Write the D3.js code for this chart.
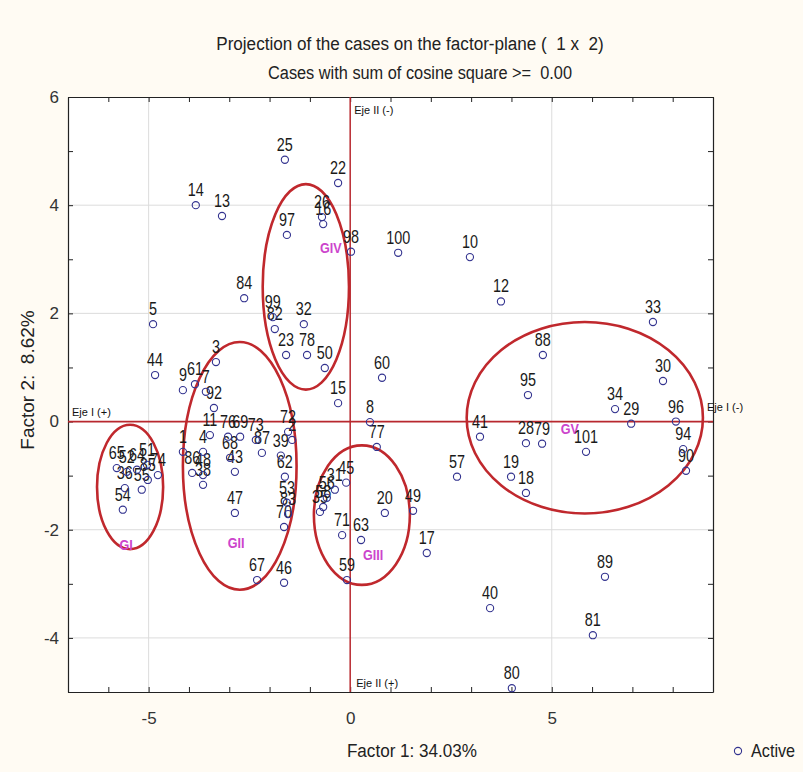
<!DOCTYPE html>
<html><head><meta charset="utf-8">
<script src="https://cdn.jsdelivr.net/npm/d3@7/dist/d3.min.js"></script>
<style>
html,body{margin:0;padding:0;background:#fffbf3;}
svg{display:block;font-family:"Liberation Sans",Arial,sans-serif;}
.pre{white-space:pre;}
</style></head>
<body><svg id="c" width="803" height="772"></svg>
<script>
// ---------- data ----------
const caseIds = [25,22,14,13,26,16,97,98,100,10,12,84,99,82,32,23,78,50,60,33,5,44,3,9,61,7,92,11,76,69,73,1,4,86,48,38,68,43,87,39,72,2,62,53,83,70,47,67,46,15,8,77,45,31,56,58,35,71,63,20,59,49,17,40,80,89,81,57,19,18,88,95,41,28,79,101,34,29,30,96,94,90,65,52,64,51,74,85,55,36,54];
const factor1 = [-1.62,-0.30,-3.83,-3.18,-0.70,-0.67,-1.57,0.02,1.19,2.97,3.74,-2.63,-1.92,-1.87,-1.15,-1.59,-1.07,-0.63,0.79,7.51,-4.89,-4.84,-3.33,-4.15,-3.85,-3.58,-3.38,-3.48,-3.03,-2.73,-2.34,-4.15,-3.65,-3.92,-3.65,-3.65,-2.98,-2.86,-2.19,-1.72,-1.54,-1.44,-1.62,-1.57,-1.54,-1.64,-2.86,-2.31,-1.64,-0.30,0.49,0.66,-0.10,-0.38,-0.58,-0.67,-0.75,-0.20,0.27,0.86,-0.08,1.56,1.90,3.47,4.01,6.32,6.02,2.65,3.99,4.36,4.78,4.41,3.22,4.36,4.76,5.85,6.57,6.97,7.76,8.08,8.26,8.33,-5.79,-5.54,-5.29,-5.04,-4.77,-5.02,-5.17,-5.59,-5.64];
const factor2 = [4.84,4.41,4.00,3.80,3.78,3.65,3.45,3.14,3.12,3.04,2.22,2.28,1.93,1.71,1.80,1.23,1.23,0.99,0.81,1.84,1.80,0.86,1.10,0.58,0.69,0.55,0.25,-0.25,-0.28,-0.28,-0.34,-0.56,-0.56,-0.95,-0.99,-1.17,-0.67,-0.93,-0.58,-0.63,-0.19,-0.34,-1.02,-1.50,-1.71,-1.95,-1.69,-2.93,-2.98,0.34,-0.01,-0.47,-1.13,-1.26,-1.41,-1.58,-1.67,-2.10,-2.19,-1.69,-2.93,-1.65,-2.43,-3.45,-4.93,-2.87,-3.95,-1.02,-1.02,-1.32,1.23,0.49,-0.28,-0.40,-0.41,-0.56,0.23,-0.04,0.75,0.00,-0.51,-0.91,-0.86,-0.93,-0.89,-0.80,-0.99,-1.08,-1.26,-1.23,-1.63];

const groupNames = ["GI","GII","GIII","GIV","GV"];
const groupCx = [-5.46,-2.74,0.29,-1.10,5.82];
const groupCy = [-1.21,-0.82,-1.73,2.49,0.07];
const groupRx = [0.82,1.41,1.19,1.07,2.93];
const groupRy = [1.15,2.29,1.29,1.90,1.77];
const groupLabelX = [-5.56,-2.83,0.57,-0.48,5.45];
const groupLabelY = [-2.28,-2.24,-2.47,3.21,-0.14];

const xDomain = [-7,9];
const yDomain = [-5,6];
const xMajorTicks = [-5,0,5];
const yMajorTicks = [-4,-2,0,2,4,6];
const xMinorTicks = d3.range(-7,10,1);
const yMinorTicks = d3.range(-5,7,1);

const titleText = "Projection of the cases on the factor-plane (  1 x  2)";
const subtitleText = "Cases with sum of cosine square >=  0.00";
const xTitle = "Factor 1: 34.03%";
const yTitle = "Factor 2:  8.62%";
const legendText = "Active";
const axisLabels = ["Eje II (-)","Eje II (+)","Eje I (+)","Eje I (-)"];

// ---------- layout ----------
const L=68,R=713,T=97,B=692;
const x = d3.scaleLinear().domain(xDomain).range([L,R]);
const y = d3.scaleLinear().domain(yDomain).range([B,T]);
const svg = d3.select("#c");
const ink="#222";

svg.append("rect").attr("x",L).attr("y",T).attr("width",R-L).attr("height",B-T).attr("fill","#fff");

// grid
const g = svg.append("g");
g.selectAll(".gx").data(xMajorTicks.filter(v=>v!==0)).enter().append("line")
 .attr("x1",d=>x(d)).attr("x2",d=>x(d)).attr("y1",T).attr("y2",B).attr("stroke","#dcdcdc").attr("stroke-width",1);
g.selectAll(".gy").data(yMajorTicks.filter(v=>v!==0&&v!==6)).enter().append("line")
 .attr("y1",d=>y(d)).attr("y2",d=>y(d)).attr("x1",L).attr("x2",R).attr("stroke","#dcdcdc").attr("stroke-width",1);

// axes (ticks inside)
function styleAxis(sel){sel.select(".domain").attr("stroke",ink).attr("stroke-width",1.2);sel.selectAll("line").attr("stroke",ink);}
const fmt = d=>d<0?"-"+Math.abs(d):String(d);
const bx = svg.append("g").attr("transform",`translate(0,${B})`)
 .call(d3.axisBottom(x).tickValues(xMinorTicks).tickSizeInner(-5).tickSizeOuter(0).tickPadding(20).tickFormat(d=>xMajorTicks.includes(d)?fmt(d):""));
styleAxis(bx);
const tx = svg.append("g").attr("transform",`translate(0,${T})`)
 .call(d3.axisTop(x).tickValues(xMinorTicks).tickSizeInner(-5).tickSizeOuter(0).tickFormat(""));
styleAxis(tx);
const ly = svg.append("g").attr("transform",`translate(${L},0)`)
 .call(d3.axisLeft(y).tickValues(yMinorTicks).tickSizeInner(-5).tickSizeOuter(0).tickPadding(9).tickFormat(d=>yMajorTicks.includes(d)?fmt(d):""));
styleAxis(ly);
const ry = svg.append("g").attr("transform",`translate(${R},0)`)
 .call(d3.axisRight(y).tickValues(yMinorTicks).tickSizeInner(-5).tickSizeOuter(0).tickFormat(""));
styleAxis(ry);
svg.selectAll(".tick text").attr("font-size",17).attr("fill","#333").style("font-family","Liberation Sans, Arial");

// red axis lines
svg.append("line").attr("x1",x(0)).attr("x2",x(0)).attr("y1",T).attr("y2",B).attr("stroke","#b8282e").attr("stroke-width",1.5);
svg.append("line").attr("x1",L).attr("x2",R).attr("y1",y(0)).attr("y2",y(0)).attr("stroke","#b8282e").attr("stroke-width",1.8);

// axis name labels
function small(t,px,py,anchor){return svg.append("text").attr("x",px).attr("y",py).attr("font-size",11).attr("fill","#111").attr("text-anchor",anchor||"start").text(t);}
small(axisLabels[0],x(0)+4,y(6)+17);
small(axisLabels[1],x(0)+6,y(-5)-5);
small(axisLabels[2],L+4,y(0)-6);
small(axisLabels[3],R-6,y(0)-11);

// ellipses
svg.append("g").selectAll("ellipse").data(groupNames).enter().append("ellipse")
 .attr("cx",(d,i)=>x(groupCx[i])).attr("cy",(d,i)=>y(groupCy[i]))
 .attr("rx",(d,i)=>x(groupRx[i])-x(0)).attr("ry",(d,i)=>y(0)-y(groupRy[i]))
 .attr("fill","none").attr("stroke","#c0282d").attr("stroke-width",2.6);

// group labels
svg.append("g").selectAll("text").data(groupNames).enter().append("text")
 .attr("transform",(d,i)=>`translate(${x(groupLabelX[i])},${y(groupLabelY[i])+5}) scale(0.9,1)`)
 .attr("text-anchor","middle").attr("font-size",14).attr("font-weight","bold").attr("fill","#cc44cc").text(d=>d);

// points
const pts = caseIds.map((id,i)=>({id,f1:factor1[i],f2:factor2[i]}));
svg.append("g").selectAll("text").data(pts).enter().append("text")
 .attr("transform",d=>`translate(${x(d.f1)},${y(d.f2)-9}) scale(0.8,1)`)
 .attr("text-anchor","middle").attr("font-size",18).attr("fill","#1a1a1a").text(d=>d.id);
svg.append("g").selectAll("circle").data(pts).enter().append("circle")
 .attr("cx",d=>x(d.f1)).attr("cy",d=>y(d.f2)).attr("r",3.6)
 .attr("fill","none").attr("stroke","#33338f").attr("stroke-width",1.1);

// titles
function ttl(t,px,py,fs,sx){return svg.append("text").attr("class","pre").attr("transform",`translate(${px},${py}) scale(${sx},1)`).attr("text-anchor","middle").attr("font-size",fs).attr("fill","#222").text(t);}
ttl(titleText,410,50,19,0.9);
ttl(subtitleText,420,79,19,0.86);
ttl(xTitle,412,757,19,0.9);
svg.append("text").attr("class","pre").attr("transform",`translate(34,380) rotate(-90) scale(1.0,1)`).attr("text-anchor","middle").attr("font-size",19).attr("fill","#222").text(yTitle);

// legend
svg.append("circle").attr("cx",738).attr("cy",751).attr("r",3.6).attr("fill","none").attr("stroke","#33338f").attr("stroke-width",1.1);
svg.append("text").attr("transform","translate(751,757) scale(0.9,1)").attr("font-size",18).attr("fill","#222").text(legendText);
</script></body></html>
